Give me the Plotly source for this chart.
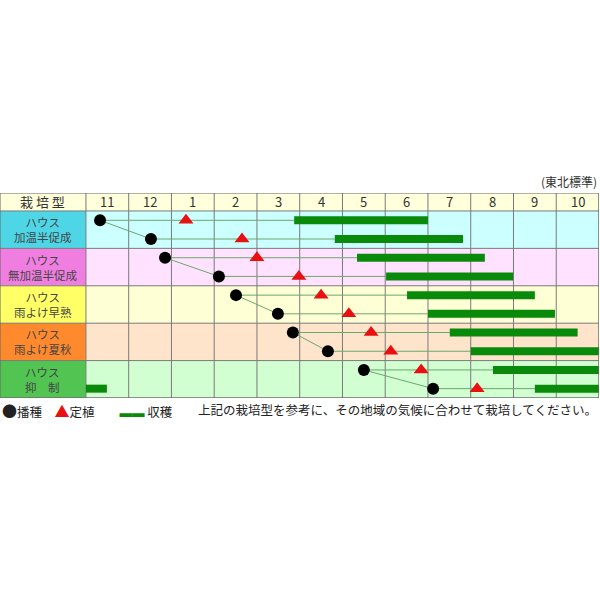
import plotly.graph_objects as go

months = ["11","12","1","2","3","4","5","6","7","8","9","10"]
groups = ["ハウス<br>加温半促成","ハウス<br>無加温半促成","ハウス<br>雨よけ早熟","ハウス<br>雨よけ夏秋","ハウス<br>抑　制"]
label_colors = ["#4ed6e6","#f07ee0","#ffff66","#ff8a2e","#52c452"]
row_colors = ["#ccffff","#ffe2ff","#ffffd6","#ffe4cc","#d2ffd2"]
# per lane (two lanes per group), month units from start of Nov
sow = [0.33,1.52,1.85,3.11,3.51,4.49,4.84,5.66,6.5,8.12]
plant = [2.34,3.65,4.0,4.98,5.5,6.15,6.67,7.13,7.84,9.15]
harv_start = [4.87,5.82,6.34,7.02,7.51,8.0,8.51,9.0,9.52,10.5]
harv_end = [8.0,8.82,9.33,9.99,10.5,10.97,11.5,12.0,12.0,12.0]
extra_harv = (9, 0.0, 0.49)  # lane, start, end

XL = -2.01
lane_y = [g + off for g in range(5) for off in (0.25, 0.75)]

fig = go.Figure()
shapes = []
shapes.append(dict(type="rect", x0=XL, x1=12, y0=-0.48, y1=0, fillcolor="#ffffdc", line_width=0, layer="below"))
for g in range(5):
    shapes.append(dict(type="rect", x0=XL, x1=0, y0=g, y1=g+1, fillcolor=label_colors[g], line_width=0, layer="below"))
    shapes.append(dict(type="rect", x0=0, x1=12, y0=g, y1=g+1, fillcolor=row_colors[g], line_width=0, layer="below"))
for i in range(13):
    shapes.append(dict(type="line", x0=i, x1=i, y0=-0.48, y1=5, line=dict(color="#7a7a7a", width=1), layer="below"))
for g in range(6):
    shapes.append(dict(type="line", x0=XL, x1=12, y0=g, y1=g, line=dict(color="#7a7a7a", width=1), layer="below"))
shapes.append(dict(type="rect", x0=XL, x1=12, y0=-0.48, y1=5, line=dict(color="#666", width=1), layer="above"))

for k in range(10):
    fig.add_trace(go.Scatter(x=[sow[k], harv_start[k]], y=[lane_y[k]]*2, mode="lines",
                             line=dict(color="#6aa86a", width=1), showlegend=False, hoverinfo="skip"))
for g in range(5):
    a, b = 2*g, 2*g+1
    fig.add_trace(go.Scatter(x=[sow[a], sow[b]], y=[lane_y[a], lane_y[b]], mode="lines",
                             line=dict(color="#6aa86a", width=1), showlegend=False, hoverinfo="skip"))
for k in range(10):
    fig.add_trace(go.Scatter(x=[harv_start[k], harv_end[k]], y=[lane_y[k]]*2, mode="lines",
                             line=dict(color="#0a8a0a", width=8), showlegend=False, hoverinfo="skip"))
fig.add_trace(go.Scatter(x=[extra_harv[1], extra_harv[2]], y=[lane_y[extra_harv[0]]]*2, mode="lines",
                         line=dict(color="#0a8a0a", width=8), showlegend=False, hoverinfo="skip"))
fig.add_trace(go.Scatter(x=sow, y=lane_y, mode="markers", marker=dict(color="black", size=12),
                         showlegend=False, hoverinfo="skip"))
fig.add_trace(go.Scatter(x=plant, y=lane_y, mode="markers", marker=dict(color="#e81010", size=13, symbol="triangle-up"),
                         showlegend=False, hoverinfo="skip"))

ann = []
F = "Noto Sans CJK JP"
ann.append(dict(x=XL/2, y=-0.24, text="栽 培 型", showarrow=False, font=dict(size=13, color="#333", family=F)))
for i, m in enumerate(months):
    ann.append(dict(x=i+0.5, y=-0.24, text=m, showarrow=False, font=dict(size=13, color="#333", family=F)))
for g, t in enumerate(groups):
    ann.append(dict(x=XL/2, y=g+0.5, text=t, showarrow=False, font=dict(size=11.5, color="#444", family=F)))
ann.append(dict(x=1, xref="paper", y=1, yref="paper", yanchor="bottom", xanchor="right", yshift=1,
                text="(東北標準)", showarrow=False, font=dict(size=12, color="#333", family=F)))
ann.append(dict(x=0, xref="paper", y=0, yref="paper", xanchor="left", yanchor="top",
                text="<span style='font-size:15px'>●</span>播種　<span style='color:#e81010;font-size:15px'>▲</span>定植　　<span style='color:#0a8a0a'>▬▬</span> 収穫",
                showarrow=False, font=dict(size=12.5, color="#222", family=F)))
ann.append(dict(x=1, xref="paper", y=0, yref="paper", xanchor="right", yanchor="top",
                text="上記の栽培型を参考に、その地域の気候に合わせて栽培してください。",
                showarrow=False, font=dict(size=12.5, color="#222", family=F)))

fig.update_layout(width=600, height=600, plot_bgcolor="white", paper_bgcolor="white",
                  margin=dict(l=0, r=1, t=193, b=202), shapes=shapes, annotations=ann,
                  xaxis=dict(range=[XL, 12], visible=False, fixedrange=True),
                  yaxis=dict(range=[5, -0.48], visible=False, fixedrange=True))
fig.write_html("out.html", config={"displayModeBar": False})
with open("out.html", encoding="utf-8") as f:
    h = f.read()
h = h.replace("<body>", "<body style='margin:0;overflow:hidden'>", 1)
with open("out.html", "w", encoding="utf-8") as f:
    f.write(h)
